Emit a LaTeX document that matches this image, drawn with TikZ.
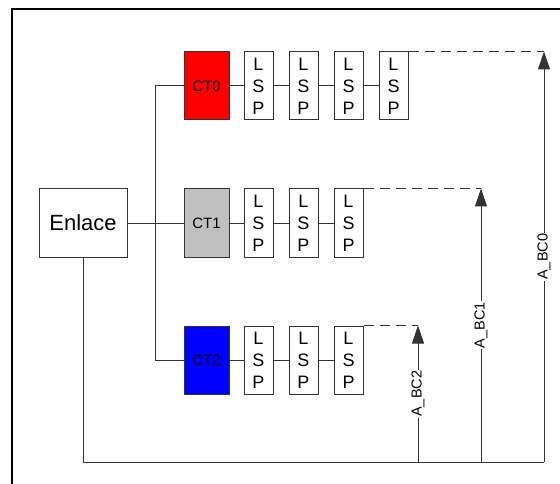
\documentclass[tikz,border=0pt]{standalone}
\usepackage{fontspec}
\setmainfont{Liberation Sans}
\usetikzlibrary{arrows.meta, positioning}

\begin{document}
\begin{tikzpicture}[x=1pt, y=-1pt, line width=1pt, draw=black!80, node distance=15pt,
  ct/.style={draw, minimum width=45pt, minimum height=68pt, inner sep=0pt, font=\fontsize{15}{17}\selectfont},
  lsp/.style={draw, fill=white, minimum width=29pt, minimum height=68pt, inner sep=0pt, align=center, font=\fontsize{18}{22}\selectfont},
  bc/.style={-{Triangle[length=18pt, width=12pt]}},
  bclabel/.style={midway, sloped, fill=white, inner sep=1pt, font=\fontsize{14.5}{16}\selectfont}]
\useasboundingbox (0,0) rectangle (560,484);
\draw[black, line width=1.3pt] (12,484) |- (560,9);

\node (enlace) [draw, minimum width=88pt, minimum height=68pt, font=\fontsize{22}{26}\selectfont] at (83,223) {Enlace};
\node (ct0) [ct, fill=red] at (206.5,86) {CT0};
\node (ct1) [ct, fill={rgb,255:red,192;green,192;blue,192}] at (206.5,223) {CT1};
\node (ct2) [ct, fill=blue] at (206.5,360) {CT2};

% LSPs of CT0
\node (l00) [lsp, right=14pt of ct0] {L\\S\\P};
\node (l01) [lsp, right=of l00] {L\\S\\P};
\node (l02) [lsp, right=of l01] {L\\S\\P};
\node (l03) [lsp, right=of l02] {L\\S\\P};
% LSPs of CT1
\node (l10) [lsp, right=14pt of ct1] {L\\S\\P};
\node (l11) [lsp, right=of l10] {L\\S\\P};
\node (l12) [lsp, right=of l11] {L\\S\\P};
% LSPs of CT2
\node (l20) [lsp, right=14pt of ct2] {L\\S\\P};
\node (l21) [lsp, right=of l20] {L\\S\\P};
\node (l22) [lsp, right=of l21] {L\\S\\P};

\draw (ct0) -- (l00) -- (l01) -- (l02) -- (l03);
\draw (ct1) -- (l10) -- (l11) -- (l12);
\draw (ct2) -- (l20) -- (l21) -- (l22);

\draw (enlace) -- (ct1);
\draw (ct0.west) -| ([xshift=-28pt]ct1.west) |- (ct2.west);

\coordinate (b0) at (544,462);
\coordinate (b1) at (481,462);
\coordinate (b2) at (418,462);
\coordinate (t0) at (b0 |- l03.north east);
\coordinate (t1) at (b1 |- l12.north east);
\coordinate (t2) at (b2 |- l22.north east);

\draw (enlace.south) |- (b0);
\draw[dash pattern=on 10pt off 6pt] (l03.north east) -- (t0);
\draw[dash pattern=on 10pt off 6pt] (l12.north east) -- (t1);
\draw[dash pattern=on 10pt off 6pt] (l22.north east) -- (t2);

\draw[bc] (b0) -- (t0) node[bclabel] {A\_BC0};
\draw[bc] (b1) -- (t1) node[bclabel] {A\_BC1};
\draw[bc] (b2) -- (t2) node[bclabel] {A\_BC2};
\end{tikzpicture}
\end{document}
